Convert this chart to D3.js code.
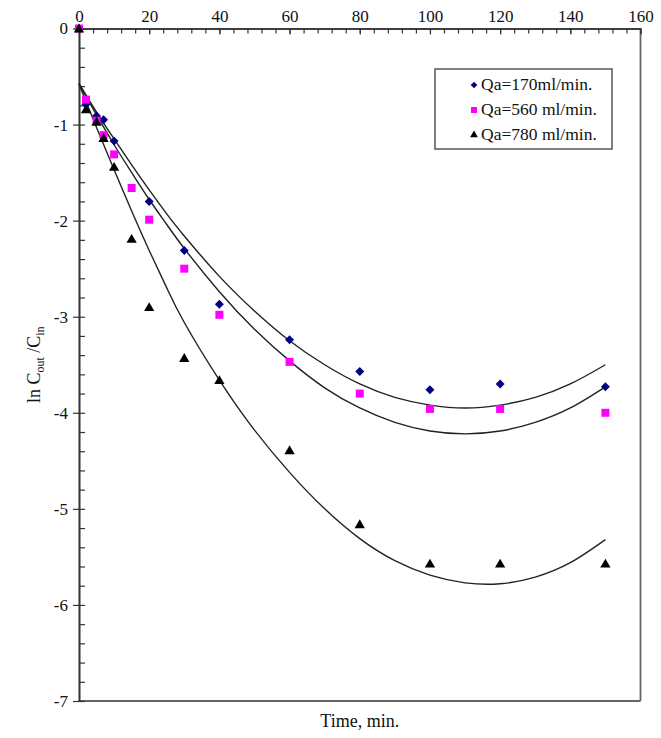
<!DOCTYPE html>
<html><head><meta charset="utf-8">
<script src="https://cdn.jsdelivr.net/npm/d3@7"></script>
<style>
html,body{margin:0;padding:0;background:#fff;}
svg{display:block;font-family:"Liberation Serif","Times New Roman",serif;}
</style></head>
<body><svg id="chart" width="661" height="738"></svg>
<script>
// ---- data ----
const times = [0, 2, 5, 7, 10, 15, 20, 30, 40, 60, 80, 100, 120, 150];
const qa170 = [0, -0.79, -0.91, -0.95, -1.17, null, -1.80, -2.31, -2.87, -3.24, -3.57, -3.76, -3.70, -3.73];
const qa560 = [0, -0.74, -0.96, -1.11, -1.31, -1.66, -1.99, -2.50, -2.98, -3.47, -3.80, -3.96, -3.96, -4.00];
const qa780 = [0, -0.84, -0.97, -1.14, -1.44, -2.19, -2.90, -3.43, -3.66, -4.39, -5.16, -5.57, -5.57, -5.57];
// fitted trend curves, sampled along x
const fitX   = [0, 5, 10, 15, 20, 25, 30, 40, 50, 60, 70, 80, 90, 100, 110, 120, 130, 140, 150];
const fit170 = [-0.57, -0.87, -1.15, -1.42, -1.68, -1.93, -2.16, -2.58, -2.94, -3.25, -3.50, -3.70, -3.84, -3.92, -3.95, -3.92, -3.84, -3.70, -3.50];
const fit560 = [-0.58, -0.90, -1.21, -1.50, -1.78, -2.04, -2.29, -2.74, -3.13, -3.46, -3.74, -3.95, -4.10, -4.19, -4.22, -4.19, -4.10, -3.95, -3.73];
const fit780 = [-0.58, -1.03, -1.47, -1.90, -2.31, -2.70, -3.06, -3.66, -4.18, -4.62, -5.00, -5.31, -5.54, -5.69, -5.77, -5.78, -5.71, -5.56, -5.32];
const seriesNames = ["Qa=170ml/min.", "Qa=560 ml/min.", "Qa=780 ml/min."];
const xTicks = [0, 20, 40, 60, 80, 100, 120, 140, 160];
const yTicks = [0, -1, -2, -3, -4, -5, -6, -7];

const svg = d3.select("#chart");
const x = d3.scaleLinear().domain([0, 160]).range([79, 640.5]);
const y = d3.scaleLinear().domain([-7, 0]).range([701, 28.5]);

const axisColor = "#333";
const fontSize = 17;

// frame (right and bottom)
svg.append("line").attr("x1", x(160)).attr("x2", x(160)).attr("y1", y(0)).attr("y2", y(-7))
  .attr("stroke", "#666").attr("stroke-width", 1.8);
svg.append("line").attr("x1", x(0)).attr("x2", x(160)).attr("y1", y(-7)).attr("y2", y(-7))
  .attr("stroke", "#666").attr("stroke-width", 1.8);

// x axis at top
const gxMinor = svg.append("g").attr("transform", `translate(0,${y(0)})`)
  .call(d3.axisTop(x).tickValues(d3.range(0, 161, 4)).tickFormat("").tickSizeInner(-5).tickSizeOuter(0));
const gx = svg.append("g").attr("transform", `translate(0,${y(0)})`)
  .call(d3.axisTop(x).tickValues(xTicks).tickFormat(d3.format("d")).tickSizeInner(-6).tickSizeOuter(0).tickPadding(7));
// y axis at left
const gyMinor = svg.append("g").attr("transform", `translate(${x(0)},0)`)
  .call(d3.axisLeft(y).tickValues(d3.range(-70, 1, 2).map(v => v / 10)).tickFormat("").tickSizeInner(-6).tickSizeOuter(0));
const gy = svg.append("g").attr("transform", `translate(${x(0)},0)`)
  .call(d3.axisLeft(y).tickValues(yTicks).tickFormat(d3.format("d")).tickSizeInner(6).tickSizeOuter(0).tickPadding(5));

[gxMinor, gx, gyMinor, gy].forEach(g => {
  g.selectAll(".domain").attr("stroke", axisColor).attr("stroke-width", 1.6);
  g.selectAll(".tick line").attr("stroke", axisColor).attr("stroke-width", 1.2);
  g.selectAll("text").attr("font-family", "Liberation Serif, Times New Roman, serif")
    .attr("font-size", fontSize).attr("fill", "#111");
});
gy.selectAll("text").text(d => d === 0 ? "0" : "-" + Math.abs(d));

// curves
const line = d3.line().x(d => x(d[0])).y(d => y(d[1])).curve(d3.curveNatural);
[fit170, fit560, fit780].forEach(f => {
  svg.append("path").datum(fitX.map((t, i) => [t, f[i]])).attr("d", line)
    .attr("fill", "none").attr("stroke", "#222").attr("stroke-width", 1.4);
});

// markers
const diamondPath = d3.symbol().type(d3.symbolSquare).size(40);
const squarePath = d3.symbol().type(d3.symbolSquare).size(64);
const triPath = d3.symbol().type(d3.symbolTriangle).size(46);

function pts(vals) { return times.map((t, i) => [t, vals[i]]).filter(d => d[1] !== null); }

svg.append("g").selectAll("path").data(pts(qa170)).join("path")
  .attr("d", diamondPath).attr("fill", "#000080")
  .attr("transform", d => `translate(${x(d[0])},${y(d[1])}) rotate(45)`);
svg.append("g").selectAll("path").data(pts(qa560)).join("path")
  .attr("d", squarePath).attr("fill", "#ff00ff")
  .attr("transform", d => `translate(${x(d[0])},${y(d[1])})`);
svg.append("g").selectAll("path").data(pts(qa780)).join("path")
  .attr("d", triPath).attr("fill", "#000")
  .attr("transform", d => `translate(${x(d[0])},${y(d[1]) + 1})`);

// legend
const lg = svg.append("g");
lg.append("rect").attr("x", 435).attr("y", 69).attr("width", 177).attr("height", 80)
  .attr("fill", "#fff").attr("stroke", "#555").attr("stroke-width", 1.5);
const legendMarks = [
  {p: d3.symbol().type(d3.symbolSquare).size(22)(), fill: "#000080", rot: 45},
  {p: d3.symbol().type(d3.symbolSquare).size(36)(), fill: "#ff00ff", rot: 0},
  {p: d3.symbol().type(d3.symbolTriangle).size(26)(), fill: "#000", rot: 0}
];
seriesNames.forEach((name, i) => {
  const cy = 85 + i * 25;
  lg.append("path").attr("d", legendMarks[i].p).attr("fill", legendMarks[i].fill)
    .attr("transform", `translate(474,${cy}) rotate(${legendMarks[i].rot})`);
  lg.append("text").attr("x", 481).attr("y", cy + 5).attr("font-size", 17.5)
    .attr("fill", "#111").text(name);
});

// axis titles
svg.append("text").attr("x", x(80)).attr("y", 727).attr("text-anchor", "middle")
  .attr("font-size", 18).attr("fill", "#111").text("Time, min.");
const yt = svg.append("text").attr("transform", `translate(40,${y(-3.5)}) rotate(-90)`)
  .attr("text-anchor", "middle").attr("font-size", 18).attr("fill", "#111");
yt.append("tspan").text("ln C");
yt.append("tspan").attr("font-size", 12).attr("dy", 4).text("out");
yt.append("tspan").attr("dy", -4).text(" /C");
yt.append("tspan").attr("font-size", 12).attr("dy", 4).text("in");
</script></body></html>
